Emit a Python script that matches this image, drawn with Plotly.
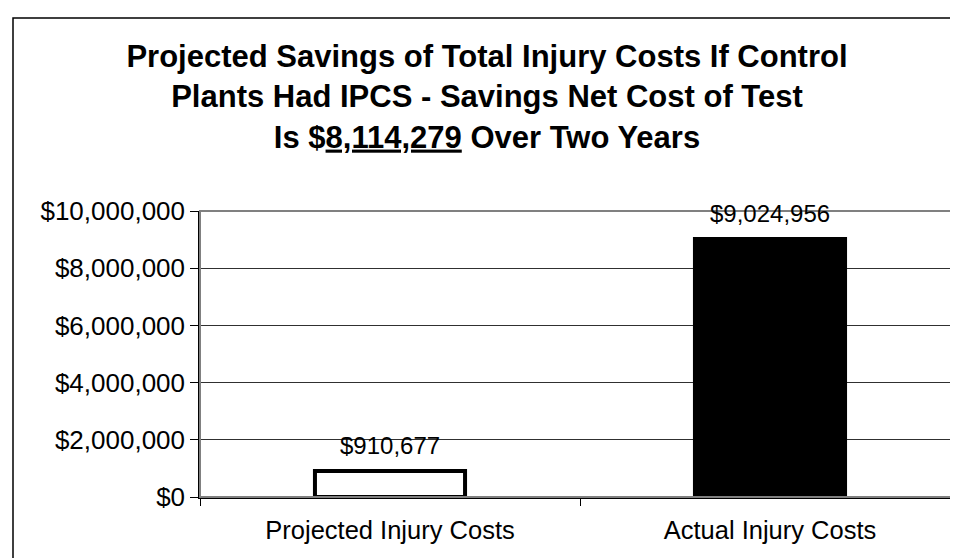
import plotly.graph_objects as go

categories = ["Projected Injury Costs", "Actual Injury Costs"]
values = [910677, 9024956]
value_labels = ["$910,677", "$9,024,956"]
bar_fills = ["#FFFFFF", "#000000"]
title_lines = ["Projected Savings of Total Injury Costs If Control",
               "Plants Had IPCS - Savings Net Cost of Test",
               "Is $<u>8,114,279</u> Over Two Years"]

W, H = 958, 558
L, R, T, B = 192, 6, 203, 69
FONT = "Liberation Sans, Arial, sans-serif"

fig = go.Figure()
fig.add_trace(go.Bar(
    x=categories, y=values,
    marker=dict(color=bar_fills, line=dict(color="#000000", width=4)),
    width=0.395,
    showlegend=False, hoverinfo="skip",
))

for c, v, lab in zip(categories, values, value_labels):
    fig.add_annotation(x=c, y=v, text=lab, showarrow=False,
                       yanchor="bottom", yshift=10,
                       font=dict(family=FONT, size=24, color="#000000"))

pw = W - L - R
ph = H - T - B
# outer chart border (left/top visible)
fig.add_shape(type="rect", xref="paper", yref="paper",
              x0=(5 - L) / pw, x1=(1000 - L) / pw,
              y0=(H - B - 600) / ph, y1=(H - B - 10) / ph,
              line=dict(color="#000000", width=1.5), layer="below")
# plot area border (gray)
fig.add_shape(type="rect", xref="paper", yref="paper",
              x0=0, x1=1, y0=0, y1=1,
              line=dict(color="#808080", width=2), layer="above")

fig.update_layout(
    width=W, height=H,
    margin=dict(l=L, r=R, t=T, b=B, pad=0),
    paper_bgcolor="#FFFFFF", plot_bgcolor="#FFFFFF",
    font=dict(family=FONT, size=25, color="#000000"),
    title=dict(text="<b>" + "<br>".join(title_lines) + "</b>",
               x=0.5, xanchor="center", xref="container",
               y=1 - 59 / H, yanchor="middle", yref="container",
               font=dict(family=FONT, size=31, color="#000000")),
    xaxis=dict(type="category", showline=True, linecolor="#000000", linewidth=1.5,
               ticks="outside", tickson="boundaries", ticklen=7, tickcolor="#000000",
               showgrid=False, zeroline=False, ticklabelstandoff=10,
               tickfont=dict(family=FONT, size=25.5, color="#000000")),
    yaxis=dict(range=[0, 10000000], dtick=2000000, tickprefix="$", tickformat=",d",
               showline=True, linecolor="#000000", linewidth=1.5,
               ticks="outside", ticklen=8, tickcolor="#000000",
               showgrid=True, gridcolor="#303030", gridwidth=1,
               zeroline=False,
               tickfont=dict(family=FONT, size=26, color="#000000")),
)

fig.write_html("out.html")
